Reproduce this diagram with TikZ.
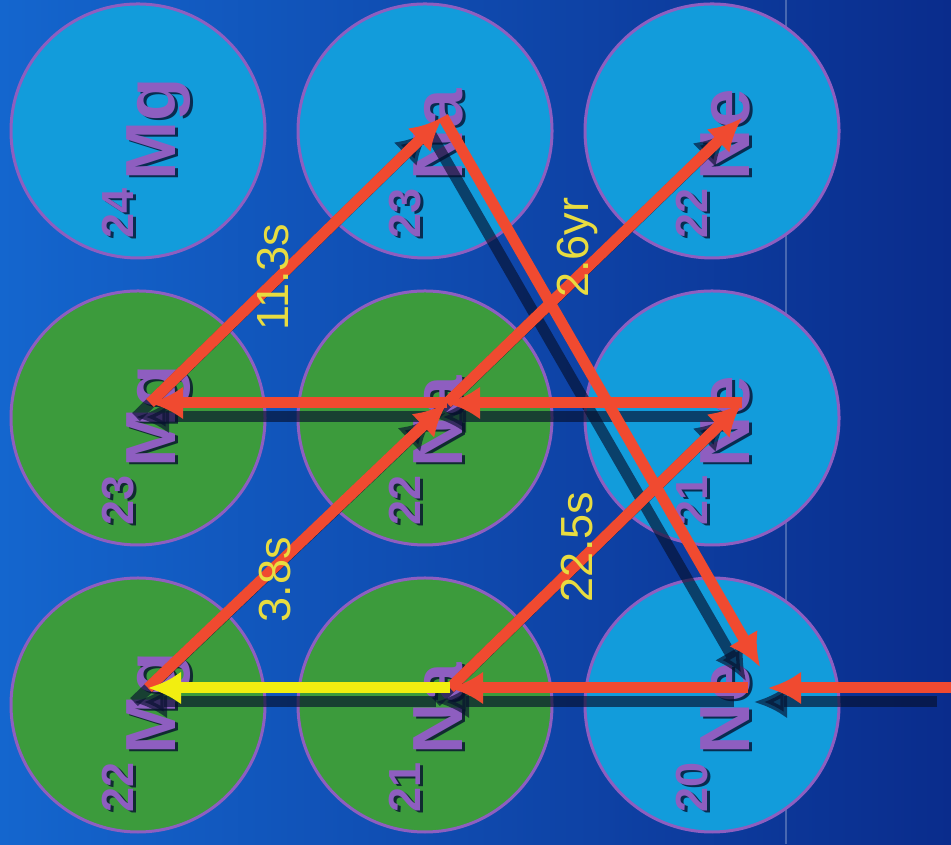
\documentclass[tikz,border=0pt]{standalone}
\usepackage{fontspec}
\setmainfont{Liberation Sans}
\usepackage{xcolor}
\usepackage{tikz}
\usetikzlibrary{calc, arrows.meta, positioning}

\definecolor{bgleft}{HTML}{1466CE}
\definecolor{bgright}{HTML}{0A2C8C}
\definecolor{nucedge}{HTML}{8E5EC0}
\definecolor{nucfillb}{HTML}{129CDB}
\definecolor{nucfillg}{HTML}{3C9B3C}
\definecolor{arrred}{HTML}{F04A30}
\definecolor{arryel}{HTML}{F2EE10}
\definecolor{labyel}{HTML}{E8DC40}
\definecolor{shadowc}{HTML}{06102E}

\tikzset{
    nucblue/.style={circle, draw=nucedge, line width=0.03cm, fill=nucfillb,
        minimum size=2.54cm, inner sep=0pt},
    nucgreen/.style={nucblue, fill=nucfillg},
    isotext/.style={rotate=90, anchor=base west, inner sep=0pt, text=nucedge,
        font=\bfseries\fontsize{20.2}{24}\selectfont},
    decay/.style={->, line width=0.11cm, draw=arrred},
    capture/.style={decay, draw=arryel},
    arrshadow/.style={->, line width=0.11cm, draw=shadowc, opacity=0.65,
        transform canvas={shift={(-0.14,-0.14)}}},
    halflife/.style={rotate=90, text=labyel, inner sep=0pt,
        font=\fontsize{12.8}{14}\selectfont},
}

% mass number + symbol, with a dark drop shadow
\newcommand{\isolabel}[3]{%
    \node[isotext, text=shadowc, opacity=0.8] (#1s) at ($(#1)+(0.40,-1.10)$)
        {\raisebox{0.42cm}{\fontsize{12.8}{14}\selectfont #2}\kern0.08cm #3};
    \node[isotext] (#1t) at ($(#1)+(0.37,-1.08)$)
        {\raisebox{0.42cm}{\fontsize{12.8}{14}\selectfont #2}\kern0.08cm #3};
}

\begin{document}
\begin{tikzpicture}[>={Latex[length=0.33cm, width=0.33cm]}]
    % 1. Background
    \useasboundingbox (0,0) rectangle (9.51,8.44);
    \shade[left color=bgleft, right color=bgright] (0,0) rectangle (9.51,8.44);
    \draw[white, opacity=0.25, line width=0.02cm] (7.86,0) -- (7.86,8.44);

    % 2. Nuclei
    \node[nucblue]  (mg24) at (1.38,7.13) {};
    \node[nucblue]  (na23) at (4.25,7.13) {};
    \node[nucblue]  (ne22) at (7.12,7.13) {};
    \node[nucgreen] (mg23) at (1.38,4.26) {};
    \node[nucgreen] (na22) at (4.25,4.26) {};
    \node[nucblue]  (ne21) at (7.12,4.26) {};
    \node[nucgreen] (mg22) at (1.38,1.39) {};
    \node[nucgreen] (na21) at (4.25,1.39) {};
    \node[nucblue]  (ne20) at (7.12,1.39) {};

    \isolabel{mg24}{24}{Mg}
    \isolabel{na23}{23}{Na}
    \isolabel{ne22}{22}{Ne}
    \isolabel{mg23}{23}{Mg}
    \isolabel{na22}{22}{Na}
    \isolabel{ne21}{21}{Ne}
    \isolabel{mg22}{22}{Mg}
    \isolabel{na21}{21}{Na}
    \isolabel{ne20}{20}{Ne}

    % 3. Points where the arrows meet
    \coordinate (mg23h) at ($(mg23)+(0.12,0.15)$);
    \coordinate (mg22h) at ($(mg22)+(0.10,0.17)$);
    \coordinate (na23h) at ($(na23)+(0.18,0.14)$);
    \coordinate (na22h) at ($(na22)+(0.22,0.15)$);
    \coordinate (na21h) at ($(na21)+(0.25,0.17)$);
    \coordinate (ne22h) at ($(ne22)+(0.30,0.13)$);
    \coordinate (ne21h) at ($(ne21)+(0.30,0.15)$);
    \coordinate (ne20h) at ($(ne20)+(0.36,0.17)$);
    \coordinate (ne20t) at ($(ne20)+(0.48,0.38)$);
    \coordinate (ne20i) at ($(ne20)+(0.56,0.17)$);
    \coordinate (inflow) at (9.51,1.56);

    % 4. Shadows, then the arrows
    \foreach \src/\dst in {inflow/ne20i, ne20h/na21h, na21h/mg22h, mg22h/na22h,
            na22h/mg23h, mg23h/na23h, na23h/ne20t, ne21h/na22h, na21h/ne21h,
            na22h/ne22h}
        \draw[arrshadow] (\src) -- (\dst);

    \foreach \src/\dst in {inflow/ne20i, ne20h/na21h, mg22h/na22h, na22h/mg23h,
            mg23h/na23h, na23h/ne20t, ne21h/na22h, na21h/ne21h, na22h/ne22h}
        \draw[decay] (\src) -- (\dst);
    \draw[capture] (na21h) -- (mg22h);

    % 5. Half-lives
    \node[halflife] (t113) at (2.73,5.67) {11.3s};
    \node[halflife] (t26)  at (5.77,5.96) {2.6yr};
    \node[halflife] (t38)  at (2.75,2.64) {3.8s};
    \node[halflife] (t225) at (5.77,2.97) {22.5s};
\end{tikzpicture}
\end{document}
